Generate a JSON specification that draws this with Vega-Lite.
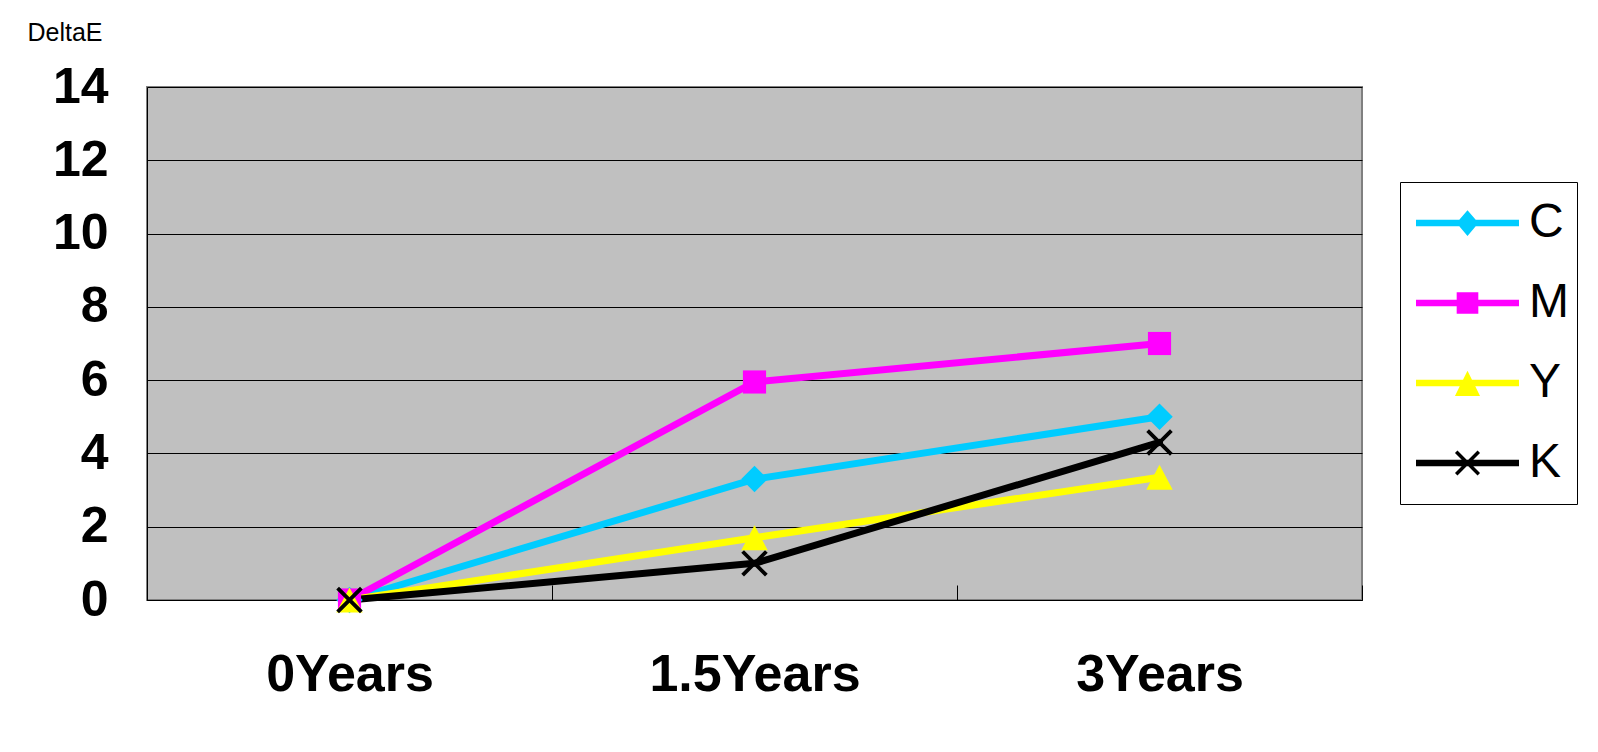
{
  "$schema": "https://vega.github.io/schema/vega-lite/v6.json",
  "autosize": {"type": "none"},
  "padding": {"left": 147, "top": 87, "right": 236, "bottom": 152},
  "width": 1215,
  "height": 513,
  "background": "white",
  "config": {
    "view": {"fill": "#C0C0C0", "stroke": "#808080", "strokeWidth": 2},
    "font": "Liberation Sans"
  },
  "data": {
    "values": [
      {"period": "0Years", "ink": "C", "deltaE": 0},
      {"period": "1.5Years", "ink": "C", "deltaE": 3.3},
      {"period": "3Years", "ink": "C", "deltaE": 5.0},
      {"period": "0Years", "ink": "M", "deltaE": 0},
      {"period": "1.5Years", "ink": "M", "deltaE": 5.95},
      {"period": "3Years", "ink": "M", "deltaE": 7.0},
      {"period": "0Years", "ink": "Y", "deltaE": 0},
      {"period": "1.5Years", "ink": "Y", "deltaE": 1.7},
      {"period": "3Years", "ink": "Y", "deltaE": 3.35},
      {"period": "0Years", "ink": "K", "deltaE": 0},
      {"period": "1.5Years", "ink": "K", "deltaE": 1.0},
      {"period": "3Years", "ink": "K", "deltaE": 4.3}
    ]
  },
  "encoding": {
    "x": {
      "field": "period",
      "type": "nominal",
      "sort": ["0Years", "1.5Years", "3Years"],
      "scale": {"paddingInner": 0, "paddingOuter": 0},
      "axis": {
        "title": null,
        "labelAngle": 0,
        "labelFontSize": 52,
        "labelFontWeight": "bold",
        "labelColor": "black",
        "labelBaseline": "alphabetic",
        "labelPadding": 105,
        "labelLimit": 0,
        "tickBand": "extent",
        "tickSize": -15,
        "tickColor": "black",
        "tickWidth": 1,
        "domainColor": "black",
        "domainWidth": 1,
        "grid": false
      }
    },
    "y": {
      "field": "deltaE",
      "type": "quantitative",
      "scale": {"domain": [0, 14], "nice": false},
      "axis": {
        "title": "DeltaE",
        "values": [0, 2, 4, 6, 8, 10, 12, 14],
        "labelFontSize": 50,
        "labelFontWeight": "bold",
        "labelColor": "black",
        "labelPadding": 39,
        "labelOverlap": false,
        "ticks": false,
        "grid": true,
        "gridColor": "black",
        "gridWidth": 1,
        "gridOpacity": 1,
        "domainColor": "black",
        "domainWidth": 1,
        "titleAngle": 0,
        "titleX": -120,
        "titleY": -47,
        "titleAlign": "left",
        "titleBaseline": "alphabetic",
        "titleFontSize": 25,
        "titleFontWeight": "normal",
        "titleColor": "black"
      }
    },
    "color": {
      "field": "ink",
      "type": "nominal",
      "scale": {"domain": ["C", "M", "Y", "K"], "range": ["#00CCFF", "#FF00FF", "#FFFF00", "#000000"]},
      "legend": {
        "title": null,
        "orient": "none",
        "legendX": 1253,
        "legendY": 95,
        "direction": "vertical",
        "strokeColor": "black",
        "fillColor": "white",
        "padding": 8,
        "clipHeight": 66,
        "rowPadding": 14,
        "symbolSize": 10609,
        "symbolOffset": 8,
        "labelFontSize": 48,
        "labelFont": "Liberation Sans",
        "labelColor": "black",
        "labelOffset": 10,
        "labelBaseline": "middle",
        "encode": {
          "symbols": {
            "update": {
              "shape": {"signal": "datum.value === 'C' ? 'M-1,-0.064L-0.159,-0.064L0,-0.25L0.159,-0.064L1,-0.064L1,0.064L0.159,0.064L0,0.25L-0.159,0.064L-1,0.064Z' : datum.value === 'M' ? 'M-1,-0.064L-0.21,-0.064L-0.21,-0.21L0.21,-0.21L0.21,-0.064L1,-0.064L1,0.064L0.21,0.064L0.21,0.21L-0.21,0.21L-0.21,0.064L-1,0.064Z' : datum.value === 'Y' ? 'M-1,-0.064L-0.087,-0.064L0,-0.24L0.087,-0.064L1,-0.064L1,0.064L0.151,0.064L0.243,0.25L-0.243,0.25L-0.151,0.064L-1,0.064Z' : 'M-1,-0.064L-0.112,-0.064L-0.243,-0.195L-0.195,-0.243L-0.016,-0.064L0.016,-0.064L0.195,-0.243L0.243,-0.195L0.112,-0.064L1,-0.064L1,0.064L0.112,0.064L0.243,0.195L0.195,0.243L0.016,0.064L-0.016,0.064L-0.195,0.243L-0.243,0.195L-0.112,0.064L-1,0.064Z'"},
              "fill": {"signal": "scale('color', datum.value)"},
              "stroke": {"value": "transparent"},
              "strokeWidth": {"value": 0},
              "opacity": {"value": 1},
              "size": {"value": 10609}
            }
          }
        }
      }
    }
  },
  "layer": [
    {"mark": {"type": "line", "strokeWidth": 7, "strokeJoin": "round", "strokeCap": "round"}},
    {
      "transform": [{"filter": "datum.ink === 'C'"}],
      "mark": {"type": "point", "filled": true, "opacity": 1, "size": 700, "strokeWidth": 0, "shape": "M0,-1L1,0L0,1L-1,0Z"}
    },
    {
      "transform": [{"filter": "datum.ink === 'M'"}],
      "mark": {"type": "point", "filled": true, "opacity": 1, "size": 700, "strokeWidth": 0, "shape": "M-0.875,-0.875L0.875,-0.875L0.875,0.875L-0.875,0.875Z"}
    },
    {
      "transform": [{"filter": "datum.ink === 'Y'"}],
      "mark": {"type": "point", "filled": true, "opacity": 1, "size": 700, "strokeWidth": 0, "shape": "M0,-0.95L1,0.95L-1,0.95Z"}
    },
    {
      "transform": [{"filter": "datum.ink === 'K'"}],
      "mark": {"type": "point", "filled": true, "opacity": 1, "size": 700, "strokeWidth": 0, "shape": "M-0.794,-1L0,-0.206L0.794,-1L1,-0.794L0.206,0L1,0.794L0.794,1L0,0.206L-0.794,1L-1,0.794L-0.206,0L-1,-0.794Z"}
    }
  ]
}
